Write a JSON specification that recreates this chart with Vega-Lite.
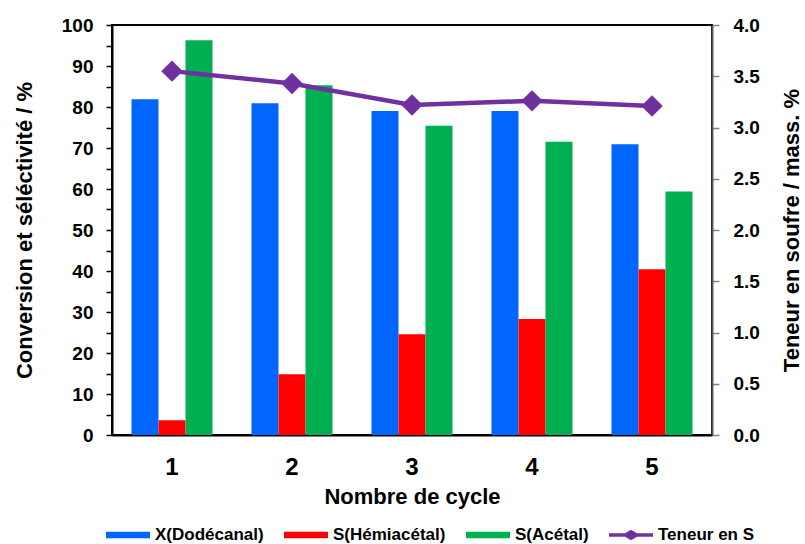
{
  "$schema": "https://vega.github.io/schema/vega-lite/v6.json",
  "width": 600,
  "height": 410,
  "autosize": {"type": "none"},
  "padding": {"left": 112, "top": 25, "right": 93, "bottom": 109},
  "background": "white",
  "config": {
    "font": "Liberation Sans",
    "view": {"stroke": "black", "strokeWidth": 2},
    "axis": {"grid": false, "labelColor": "black", "titleColor": "black", "labelFontWeight": "bold", "titleFontWeight": "bold", "labelFont": "Liberation Sans", "titleFont": "Liberation Sans"}
  },
  "datasets": {
    "bars": [
      {"cycle": 1, "serie": "X(Dodécanal)", "valeur": 81.9},
      {"cycle": 1, "serie": "S(Hémiacétal)", "valeur": 3.6},
      {"cycle": 1, "serie": "S(Acétal)", "valeur": 96.3},
      {"cycle": 2, "serie": "X(Dodécanal)", "valeur": 80.9},
      {"cycle": 2, "serie": "S(Hémiacétal)", "valeur": 14.8},
      {"cycle": 2, "serie": "S(Acétal)", "valeur": 85.3},
      {"cycle": 3, "serie": "X(Dodécanal)", "valeur": 79.0},
      {"cycle": 3, "serie": "S(Hémiacétal)", "valeur": 24.6},
      {"cycle": 3, "serie": "S(Acétal)", "valeur": 75.4},
      {"cycle": 4, "serie": "X(Dodécanal)", "valeur": 79.0},
      {"cycle": 4, "serie": "S(Hémiacétal)", "valeur": 28.3},
      {"cycle": 4, "serie": "S(Acétal)", "valeur": 71.5},
      {"cycle": 5, "serie": "X(Dodécanal)", "valeur": 70.9},
      {"cycle": 5, "serie": "S(Hémiacétal)", "valeur": 40.4},
      {"cycle": 5, "serie": "S(Acétal)", "valeur": 59.4}
    ],
    "teneur": [
      {"cycle": 1, "teneur": 3.55},
      {"cycle": 2, "teneur": 3.43},
      {"cycle": 3, "teneur": 3.22},
      {"cycle": 4, "teneur": 3.26},
      {"cycle": 5, "teneur": 3.21}
    ]
  },
  "layer": [
    {
      "data": {"name": "bars"},
      "mark": {"type": "bar"},
      "encoding": {
        "x": {
          "field": "cycle", "type": "ordinal",
          "scale": {"paddingInner": 0.325, "paddingOuter": 0.1625},
          "axis": {"title": "Nombre de cycle", "labelAngle": 0, "ticks": false, "labelPadding": 20, "labelFontSize": 24, "titleFontSize": 22, "titlePadding": 7, "domainColor": "black", "domainWidth": 2}
        },
        "xOffset": {"field": "serie", "type": "nominal", "scale": {"domain": ["X(Dodécanal)", "S(Hémiacétal)", "S(Acétal)"], "padding": 0}},
        "y": {
          "field": "valeur", "type": "quantitative",
          "scale": {"domain": [0, 100], "nice": false},
          "axis": {
            "title": "Conversion et séléctivité / %",
            "values": [0, 5, 10, 15, 20, 25, 30, 35, 40, 45, 50, 55, 60, 65, 70, 75, 80, 85, 90, 95, 100],
            "labelExpr": "datum.value % 10 === 0 ? datum.label : ''",
            "tickSize": 6, "tickColor": "black", "tickWidth": 1.5,
            "domainColor": "black", "domainWidth": 2,
            "labelFontSize": 19, "labelPadding": 13,
            "titleFontSize": 22, "titlePadding": 25
          }
        },
        "color": {
          "field": "serie", "type": "nominal",
          "scale": {"domain": ["X(Dodécanal)", "S(Hémiacétal)", "S(Acétal)", "Teneur en S"], "range": ["#0066FF", "#FF0000", "#00B050", "#7030A0"]},
          "legend": {"title": null, "orient": "none", "direction": "horizontal", "legendX": -6, "legendY": 488, "symbolSize": 1936, "symbolStrokeWidth": 0, "symbolOpacity": 1, "labelFontSize": 17, "labelFontWeight": "bold", "labelColor": "black", "labelOffset": 5, "columnPadding": 20}
        }
      }
    },
    {
      "data": {"name": "teneur"},
      "encoding": {
        "x": {"field": "cycle", "type": "ordinal"},
        "y": {
          "field": "teneur", "type": "quantitative",
          "scale": {"domain": [0, 4], "nice": false},
          "axis": {
            "orient": "right",
            "title": "Teneur en soufre / mass. %",
            "values": [0, 0.5, 1, 1.5, 2, 2.5, 3, 3.5, 4],
            "format": ".1f",
            "tickSize": 7, "tickColor": "#868686", "tickWidth": 1.5,
            "domainColor": "#595959", "domainWidth": 2,
            "labelFontSize": 19, "labelPadding": 14,
            "titleFontSize": 22, "titlePadding": 22, "titleAngle": 270, "titleBaseline": "top"
          }
        }
      },
      "layer": [
        {"mark": {"type": "line", "color": "#7030A0", "strokeWidth": 4.5}},
        {"mark": {"type": "point", "shape": "diamond", "filled": true, "size": 460, "color": "#7030A0", "opacity": 1}}
      ]
    },
    {
      "data": {"values": []},
      "mark": {"type": "point", "filled": true, "opacity": 1},
      "encoding": {
        "color": {"field": "serie", "type": "nominal"},
        "shape": {
          "field": "serie", "type": "nominal",
          "scale": {"domain": ["X(Dodécanal)", "S(Hémiacétal)", "S(Acétal)", "Teneur en S"], "range": ["M-1,-0.15H1V0.15H-1Z", "M-1,-0.15H1V0.15H-1Z", "M-1,-0.15H1V0.15H-1Z", "M-1,-0.08H-0.27L0,-0.24L0.27,-0.08H1V0.08H0.27L0,0.24L-0.27,0.08H-1Z"]},
          "legend": {"title": null, "orient": "none", "direction": "horizontal", "legendX": -6, "legendY": 488, "symbolSize": 1936, "symbolStrokeWidth": 0, "symbolOpacity": 1, "labelFontSize": 17, "labelFontWeight": "bold", "labelColor": "black", "labelOffset": 5, "columnPadding": 20}
        }
      }
    }
  ],
  "resolve": {"scale": {"y": "independent"}}
}
